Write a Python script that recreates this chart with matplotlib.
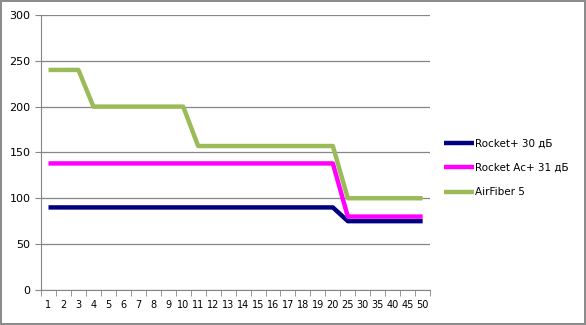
import matplotlib.pyplot as plt
import numpy as np

categories = [str(i) for i in range(1, 21)] + ["25", "30", "35", "40", "45", "50"]
rocket_plus = [90] * 20 + [75] * 6
rocket_ac = [138] * 20 + [80] * 6
airfiber = [240] * 3 + [200] * 7 + [157] * 10 + [100] * 6

series = [
    ("Rocket+ 30 дБ", rocket_plus, "#000080"),
    ("Rocket Ac+ 31 дБ", rocket_ac, "#ff00ff"),
    ("AirFiber 5", airfiber, "#9bbb59"),
]

plt.rcParams["font.family"] = ["DejaVu Sans"]

fig = plt.figure(figsize=(5.86, 3.25), dpi=100)
fig.patch.set_edgecolor("#8c8c8c")
fig.patch.set_linewidth(1.5)
ax = fig.add_axes([0.07, 0.108, 0.664, 0.846])

x = np.arange(len(categories))
for name, vals, col in series:
    ax.plot(x, vals, color=col, lw=3.2, label=name, solid_capstyle="butt")

ax.set_xlim(-0.5, len(categories) - 0.5)
ax.set_ylim(0, 300)
ax.set_yticks(range(0, 301, 50))
ax.set_xticks(x)
ax.set_xticklabels(categories, fontsize=7)
ax.set_xticks(np.arange(-0.5, len(categories), 1), minor=True)
ax.tick_params(axis="x", which="major", length=0, pad=7)
ax.tick_params(axis="x", which="minor", length=4, color="#868686")
ax.tick_params(axis="y", length=4, color="#868686", labelsize=8)
ax.grid(axis="y", color="#868686", lw=0.9)
ax.set_axisbelow(True)
for s in ["top", "right"]:
    ax.spines[s].set_visible(False)
for s in ["left", "bottom"]:
    ax.spines[s].set_color("#868686")

leg = ax.legend(loc="center left", bbox_to_anchor=(1.012, 0.444), frameon=False,
                fontsize=7.5, handlelength=2.9, handletextpad=0.1, labelspacing=1.4)

fig.savefig("out.png", dpi=100)
